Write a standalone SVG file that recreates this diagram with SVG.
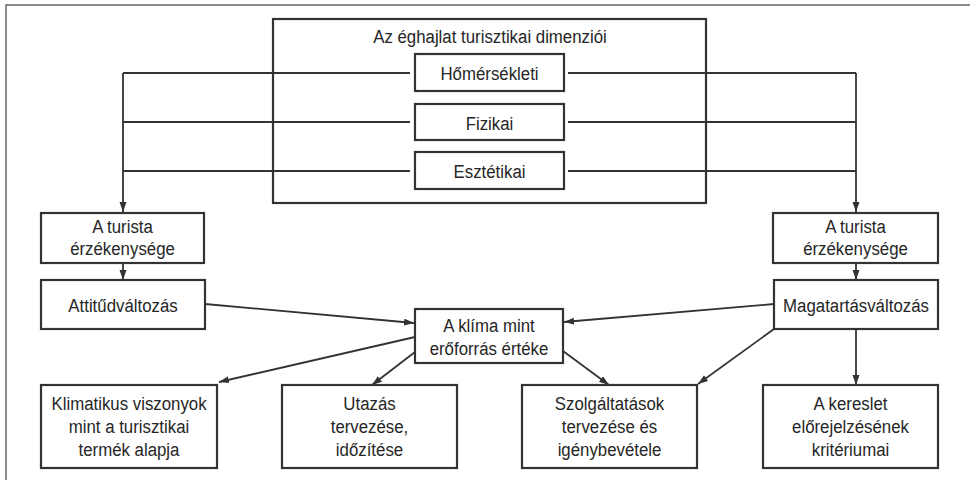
<svg xmlns="http://www.w3.org/2000/svg" width="970" height="480" viewBox="0 0 970 480">
<defs>
<marker id="ah" markerUnits="userSpaceOnUse" markerWidth="11" markerHeight="8" refX="10" refY="3.5" orient="auto">
<path d="M0,0 L10,3.5 L0,7 z" fill="#333"/>
</marker>
<style>
.box{fill:#fff;stroke:#333;stroke-width:2.2}
.t{font-family:"Liberation Sans",Arial,sans-serif;font-size:19px;fill:#262626;text-anchor:middle}
.c{fill:none;stroke:#333;stroke-width:1.8}
.a{fill:none;stroke:#333;stroke-width:1.8;marker-end:url(#ah)}
.frame{fill:none;stroke:#666;stroke-width:1.5}
</style>
</defs>
<rect width="970" height="480" fill="#fff"/>
<path class="frame" d="M6,480 L6,5 L970,5"/>

<g id="dimensions">
<rect class="box" x="273" y="19" width="433" height="184"/>
<text class="t" transform="translate(490 43) scale(0.885 1)">Az éghajlat turisztikai dimenziói</text>
</g>
<g id="homersekleti">
<rect class="box" x="415" y="54" width="149" height="37"/>
<text class="t" transform="translate(489.5 80) scale(0.885 1)">Hőmérsékleti</text>
</g>
<g id="fizikai">
<rect class="box" x="415" y="104" width="149" height="36"/>
<text class="t" transform="translate(489.5 130) scale(0.885 1)">Fizikai</text>
</g>
<g id="esztetikai">
<rect class="box" x="415" y="152" width="149" height="37"/>
<text class="t" transform="translate(489.5 178) scale(0.885 1)">Esztétikai</text>
</g>

<g id="connectors">
<path class="c" d="M410,73 L123,73 M410,122 L123,122 M410,171 L123,171"/>
<path class="a" d="M123,73 L123,212"/>
<path class="c" d="M568,73 L856,73 M568,122 L856,122 M568,171 L856,171"/>
<path class="a" d="M856,73 L856,212"/>
<path class="a" d="M123,263 L123,280"/>
<path class="a" d="M856,263 L856,280"/>
<path class="a" d="M205,304 L414,323"/>
<path class="a" d="M774,304 L564,322"/>
<path class="a" d="M415,337 L219,382"/>
<path class="a" d="M415,352 L372,385"/>
<path class="a" d="M563,351 L609,385"/>
<path class="a" d="M774,329 L698,384"/>
<path class="a" d="M856,329 L856,385"/>
</g>

<g id="sens-left">
<rect class="box" x="41" y="213" width="163" height="50"/>
<text class="t" transform="translate(122.5 233) scale(0.885 1)">A turista</text>
<text class="t" transform="translate(122.5 255) scale(0.885 1)">érzékenysége</text>
</g>
<g id="sens-right">
<rect class="box" x="773" y="213" width="165" height="50"/>
<text class="t" transform="translate(855.5 233) scale(0.885 1)">A turista</text>
<text class="t" transform="translate(855.5 255) scale(0.885 1)">érzékenysége</text>
</g>
<g id="attitud">
<rect class="box" x="41" y="280" width="164" height="49"/>
<text class="t" transform="translate(123 312) scale(0.885 1)">Attitűdváltozás</text>
</g>
<g id="magatartas">
<rect class="box" x="774" y="280" width="164" height="49"/>
<text class="t" transform="translate(856 312) scale(0.885 1)">Magatartásváltozás</text>
</g>
<g id="klima">
<rect class="box" x="415" y="309" width="148" height="54"/>
<text class="t" transform="translate(489 332) scale(0.885 1)">A klíma mint</text>
<text class="t" transform="translate(489 355) scale(0.885 1)">erőforrás értéke</text>
</g>
<g id="klimatikus">
<rect class="box" x="41" y="385" width="176" height="83"/>
<text class="t" transform="translate(129 410) scale(0.885 1)">Klimatikus viszonyok</text>
<text class="t" transform="translate(129 433) scale(0.885 1)">mint a turisztikai</text>
<text class="t" transform="translate(129 456) scale(0.885 1)">termék alapja</text>
</g>
<g id="utazas">
<rect class="box" x="282" y="385" width="175" height="83"/>
<text class="t" transform="translate(369.5 410) scale(0.885 1)">Utazás</text>
<text class="t" transform="translate(369.5 433) scale(0.885 1)">tervezése,</text>
<text class="t" transform="translate(369.5 456) scale(0.885 1)">időzítése</text>
</g>
<g id="szolgaltatasok">
<rect class="box" x="522" y="385" width="175" height="83"/>
<text class="t" transform="translate(609.5 410) scale(0.885 1)">Szolgáltatások</text>
<text class="t" transform="translate(609.5 433) scale(0.885 1)">tervezése és</text>
<text class="t" transform="translate(609.5 456) scale(0.885 1)">igénybevétele</text>
</g>
<g id="kereslet">
<rect class="box" x="763" y="385" width="175" height="83"/>
<text class="t" transform="translate(850.5 410) scale(0.885 1)">A kereslet</text>
<text class="t" transform="translate(850.5 433) scale(0.885 1)">előrejelzésének</text>
<text class="t" transform="translate(850.5 456) scale(0.885 1)">kritériumai</text>
</g>
</svg>
